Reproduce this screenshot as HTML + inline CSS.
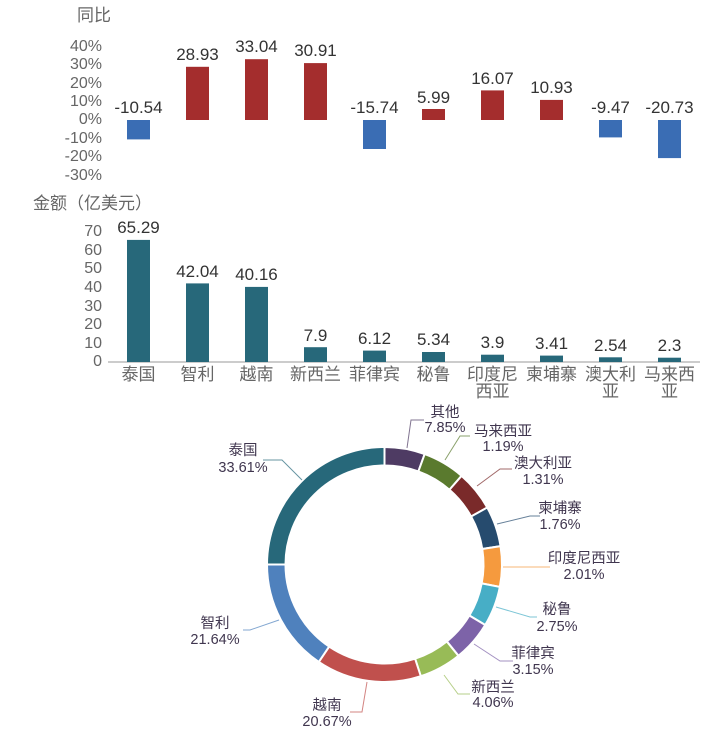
<!DOCTYPE html>
<html><head><meta charset="utf-8"><style>
body{margin:0;background:#fff;}
svg{display:block;font-family:"Liberation Sans","Noto Sans CJK SC",sans-serif;}
.yl{fill:#666;font-size:16px;text-anchor:end;}
.vl{fill:#333;font-size:17px;text-anchor:middle;}
.cl{fill:#666;font-size:17px;text-anchor:middle;}
.dl{fill:#40364f;font-size:14.5px;text-anchor:middle;}
</style></head><body>
<svg id="s" width="721" height="730" viewBox="0 0 721 730">
<text x="77" y="21" fill="#666" font-size="17">同比</text>
<g class="yl">
<text x="102" y="51">40%</text><text x="102" y="69">30%</text><text x="102" y="88">20%</text><text x="102" y="106">10%</text><text x="102" y="124">0%</text><text x="102" y="143">-10%</text><text x="102" y="161">-20%</text><text x="102" y="180">-30%</text>
</g>
<g>
<rect x="127" y="120" width="23" height="19.4" fill="#3a6db4"/>
<rect x="186" y="66.8" width="23" height="53.2" fill="#a42d2d"/>
<rect x="245" y="59.2" width="23" height="60.8" fill="#a42d2d"/>
<rect x="304" y="63.1" width="23" height="56.9" fill="#a42d2d"/>
<rect x="363" y="120" width="23" height="29" fill="#3a6db4"/>
<rect x="422" y="109" width="23" height="11" fill="#a42d2d"/>
<rect x="481" y="90.4" width="23" height="29.6" fill="#a42d2d"/>
<rect x="540" y="99.9" width="23" height="20.1" fill="#a42d2d"/>
<rect x="599" y="120" width="23" height="17.4" fill="#3a6db4"/>
<rect x="658" y="120" width="23" height="38.1" fill="#3a6db4"/>
</g>
<g class="vl">
<text x="138.5" y="113">-10.54</text><text x="197.5" y="60">28.93</text><text x="256.5" y="52">33.04</text><text x="315.5" y="56">30.91</text><text x="374.5" y="113">-15.74</text><text x="433.5" y="103">5.99</text><text x="492.5" y="84">16.07</text><text x="551.5" y="93">10.93</text><text x="610.5" y="113">-9.47</text><text x="669.5" y="113">-20.73</text>
</g>
<text x="33" y="209" fill="#666" font-size="17">金额（亿美元）</text>
<g class="yl">
<text x="102" y="236">70</text><text x="102" y="255">60</text><text x="102" y="273">50</text><text x="102" y="292">40</text><text x="102" y="311">30</text><text x="102" y="329">20</text><text x="102" y="348">10</text><text x="102" y="366">0</text>
</g>
<line x1="108" y1="362" x2="700" y2="362" stroke="#bbb" stroke-width="1.5"/>
<g fill="#27687a">
<rect x="127" y="239.9" width="23" height="122.1"/><rect x="186" y="283.4" width="23" height="78.6"/><rect x="245" y="286.9" width="23" height="75.1"/><rect x="304" y="347.2" width="23" height="14.8"/><rect x="363" y="350.6" width="23" height="11.4"/><rect x="422" y="352" width="23" height="10"/><rect x="481" y="354.7" width="23" height="7.3"/><rect x="540" y="355.6" width="23" height="6.4"/><rect x="599" y="357.3" width="23" height="4.7"/><rect x="658" y="357.7" width="23" height="4.3"/>
</g>
<g class="vl">
<text x="138.5" y="233">65.29</text><text x="197.5" y="277">42.04</text><text x="256.5" y="280">40.16</text><text x="315.5" y="341">7.9</text><text x="374.5" y="344">6.12</text><text x="433.5" y="345">5.34</text><text x="492.5" y="348">3.9</text><text x="551.5" y="349">3.41</text><text x="610.5" y="351">2.54</text><text x="669.5" y="351">2.3</text>
</g>
<g class="cl">
<text x="138.5" y="380">泰国</text><text x="197.5" y="380">智利</text><text x="256.5" y="380">越南</text><text x="315.5" y="380">新西兰</text><text x="374.5" y="380">菲律宾</text><text x="433.5" y="380">秘鲁</text><text x="492.5" y="380">印度尼</text><text x="492.5" y="397">西亚</text><text x="551.5" y="380">柬埔寨</text><text x="610.5" y="380">澳大利</text><text x="610.5" y="397">亚</text><text x="669.5" y="380">马来西</text><text x="669.5" y="397">亚</text>
</g>
<g id="donut"></g>
<g fill="none" stroke-width="1" opacity="0.7">
<polyline points="302,480 282,460 263,460" stroke="#27687a"/>
<polyline points="407,448 411,420 424,420" stroke="#4e3b63"/>
<polyline points="445,460 460,436 470,436" stroke="#5a7a2e"/>
<polyline points="477,486 500,469 512,469" stroke="#7a2a2a"/>
<polyline points="497,524 530,516 540,516" stroke="#264b6e"/>
<polyline points="503,567 540,567 550,567" stroke="#f59a3e"/>
<polyline points="496,607 530,617 537,617" stroke="#47aec6"/>
<polyline points="474,644 500,661 513,661" stroke="#7d63a8"/>
<polyline points="444,675 458,694 470,694" stroke="#98bb57"/>
<polyline points="367,682 362,712 350,712" stroke="#c0504d"/>
<polyline points="279,620 250,630 243,630" stroke="#4f81bd"/>
</g>
<g class="dl">
<text x="243" y="455">泰国</text><text x="243" y="472">33.61%</text>
<text x="445" y="417">其他</text><text x="445" y="432">7.85%</text>
<text x="503" y="436">马来西亚</text><text x="503" y="451">1.19%</text>
<text x="543" y="468">澳大利亚</text><text x="543" y="484">1.31%</text>
<text x="560" y="513">柬埔寨</text><text x="560" y="529">1.76%</text>
<text x="584" y="563">印度尼西亚</text><text x="584" y="579">2.01%</text>
<text x="557" y="614">秘鲁</text><text x="557" y="631">2.75%</text>
<text x="533" y="658">菲律宾</text><text x="533" y="674">3.15%</text>
<text x="493" y="692">新西兰</text><text x="493" y="707">4.06%</text>
<text x="327" y="710">越南</text><text x="327" y="726">20.67%</text>
<text x="215" y="628">智利</text><text x="215" y="644">21.64%</text>
</g>
</svg>
<script>
(function(){
var cx=384.5,cy=564.5,R=117.5,r=99;
var segs=[[270,360,"#27687a"],[0,20,"#4e3b63"],[20,41,"#5a7a2e"],[41,61,"#7a2a2a"],[61,81,"#264b6e"],[81,101,"#f59a3e"],[101,121,"#47aec6"],[121,141,"#7d63a8"],[141,162,"#98bb57"],[162,214,"#c0504d"],[214,270,"#4f81bd"]];
function p(a,rr){var t=a*Math.PI/180;return (cx+rr*Math.sin(t)).toFixed(2)+","+(cy-rr*Math.cos(t)).toFixed(2);}
var g=document.getElementById("donut"),h="";
segs.forEach(function(s){var a0=s[0],a1=s[1],l=(a1-a0)>180?1:0;
h+='<path d="M'+p(a0,R)+' A'+R+','+R+' 0 '+l+' 1 '+p(a1,R)+' L'+p(a1,r)+' A'+r+','+r+' 0 '+l+' 0 '+p(a0,r)+' Z" fill="'+s[2]+'" stroke="#fff" stroke-width="2"/>';});
g.innerHTML=h;
})();
</script>
</body></html>
